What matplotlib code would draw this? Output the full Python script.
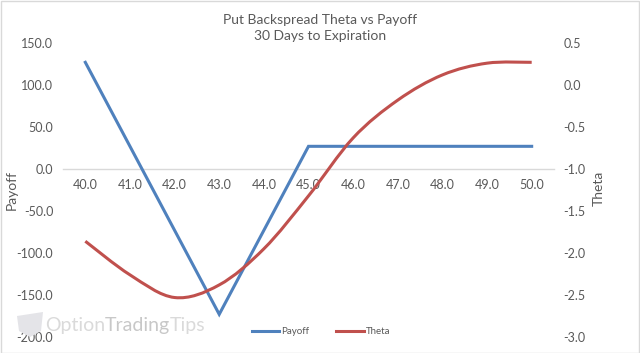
import numpy as np
import matplotlib
matplotlib.use('Agg')
import matplotlib.pyplot as plt
from matplotlib.path import Path
from matplotlib.patches import PathPatch, Rectangle, Polygon
from matplotlib.lines import Line2D

plt.rcParams['font.family'] = ['Lato', 'DejaVu Sans']

# data
prices = ['40.0', '41.0', '42.0', '43.0', '44.0', '45.0', '46.0', '47.0', '48.0', '49.0', '50.0']
payoff = [127, 27, -73, -173, -73, 27, 27, 27, 27, 27, 27]
theta = [-1.86, -2.26, -2.53, -2.38, -1.95, -1.32, -0.63, -0.18, 0.12, 0.26, 0.27]

blue = '#4F81BD'
red = '#C0504D'
txt = '#595959'

def smooth_path(xs, ys):
	#excel style smoothed line, catmull-rom as cubic bezier
	pts = np.column_stack([xs, ys]).astype(float)
	n = len(pts)
	verts = [pts[0]]
	codes = [Path.MOVETO]
	for i in range(n-1):
		p0 = pts[max(i-1, 0)]
		p1 = pts[i]
		p2 = pts[i+1]
		p3 = pts[min(i+2, n-1)]
		c1 = p1 + (p2 - p0)/6.0
		c2 = p2 - (p3 - p1)/6.0
		verts += [c1, c2, p2]
		codes += [Path.CURVE4]*3
	return Path(verts, codes)

fig = plt.figure(figsize=(6.4, 3.53), dpi=100)
W, H = 640.0, 353.0

#watermark first so it sits under everything
logo = Polygon([[17/W, 1-316/H], [43/W, 1-312/H], [41/W, 1-331/H], [30/W, 1-337/H], [19/W, 1-331/H]],
	closed=True, transform=fig.transFigure, facecolor='#e4e4e8', edgecolor='none', zorder=0)
fig.patches.append(logo)
fig.canvas.draw()
rend = fig.canvas.get_renderer()
xpos = 45/W
for word, col in [('Option', '#dadada'), ('Trading', '#c8c8c8'), ('Tips', '#dadada')]:
	t = fig.text(xpos, 1-325/H, word, fontsize=14, color=col, va='center', ha='left', zorder=0)
	bb = t.get_window_extent(renderer=rend)
	xpos += bb.width/W

ax = fig.add_axes([63/W, 1-337/H, (554-63)/W, (337-43)/H])
ax.patch.set_alpha(0)
ax2 = ax.twinx()

x = np.arange(len(prices))
ax.plot(x, payoff, color=blue, lw=2.2, solid_joinstyle='miter', zorder=3)
ax2.add_patch(PathPatch(smooth_path(x, theta), fill=False, edgecolor=red, lw=2.2, capstyle='butt'))

ax.set_xlim(-0.5, len(prices)-0.5)
ax.set_ylim(-200, 150)
ax.set_yticks(np.arange(-200, 151, 50))
ax.set_yticklabels(['%.1f' % v for v in np.arange(-200, 151, 50)])
ax2.set_ylim(-3.0, 0.5)
ax2.set_yticks(np.arange(-3.0, 0.51, 0.5))
ax2.set_yticklabels(['%.1f' % v for v in np.arange(-3.0, 0.51, 0.5)])
ax.set_xticks(x)
ax.set_xticklabels(prices)

for a in (ax, ax2):
	for s in ['top', 'left', 'right', 'bottom']:
		a.spines[s].set_visible(False)
ax.spines['bottom'].set_visible(True)
ax.spines['bottom'].set_position(('data', 0))
ax.spines['bottom'].set_color('#d9d9d9')
ax.spines['bottom'].set_linewidth(1.0)

ax.tick_params(axis='x', length=0, pad=7, labelsize=9, labelcolor=txt)
ax.tick_params(axis='y', length=0, pad=7, labelsize=9, labelcolor=txt)
ax2.tick_params(axis='y', length=0, pad=7, labelsize=9, labelcolor=txt)

fig.text(12/W, 1-190/H, 'Payoff', rotation=90, ha='center', va='center', fontsize=10, color=txt)
fig.text(599/W, 1-188/H, 'Theta', rotation=90, ha='center', va='center', fontsize=10, color=txt)

fig.text(0.5, 1-20/H, 'Put Backspread Theta vs Payoff', ha='center', va='center', fontsize=10, color=txt)
fig.text(0.5, 1-36/H, '30 Days to Expiration', ha='center', va='center', fontsize=10, color=txt)

handles = [Line2D([], [], color=blue, lw=2.2), Line2D([], [], color=red, lw=2.2)]
fig.legend(handles, ['Payoff', 'Theta'], loc='center', bbox_to_anchor=(321/W, 1-332/H),
	ncol=2, frameon=False, fontsize=7, handlelength=2.8, handletextpad=0.2,
	columnspacing=2.8, labelcolor=txt)

fig.patches.append(Rectangle((0.5/W, 0.5/H), 1-1.5/W, 1-1.5/H, transform=fig.transFigure,
	fill=False, edgecolor='#d9d9d9', lw=1))

plt.savefig('out.png', dpi=100)
